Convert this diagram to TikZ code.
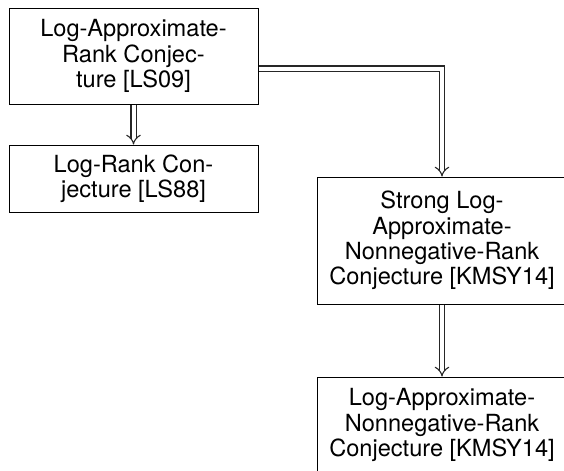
\documentclass[tikz,border=0pt]{standalone}
\usepackage{fontspec}
\setmainfont{TeX Gyre Heros}
\usetikzlibrary{arrows.meta}

\begin{document}
\begin{tikzpicture}[
    x=0.5pt, y=-0.5pt,
    conj/.style={rectangle, draw, line width=0.5pt, minimum width=124.5pt, align=center, inner sep=0pt, font=\fontsize{11.8}{12.6}\selectfont},
    implies/.style={double, double distance=2pt, line width=0.55pt, draw=black!85, -{Implies}}
]
\useasboundingbox (0,0) rectangle (564,471);

% conjectures
\node[conj, minimum height=48pt] (lar) at (133.5, 56) {Log-Approximate-\\Rank Conjec-\\ture [LS09]};
\node[conj, minimum height=33.5pt] (lr) at (133.5, 178.5) {Log-Rank Con-\\jecture [LS88]};
\node[conj, minimum height=63.5pt] (slanr) at (442, 240.5) {Strong Log-\\Approximate-\\Nonnegative-Rank\\Conjecture [KMSY14]};
\node[conj, minimum height=48pt] (lanr) at (442, 425) {Log-Approximate-\\Nonnegative-Rank\\Conjecture [KMSY14]};

% implications
\draw[implies] (lar) -- (lr);
\draw[implies] (lar.east |- 0,68.5) -| (slanr);
\draw[implies] (slanr) -- (lanr);
\end{tikzpicture}
\end{document}
